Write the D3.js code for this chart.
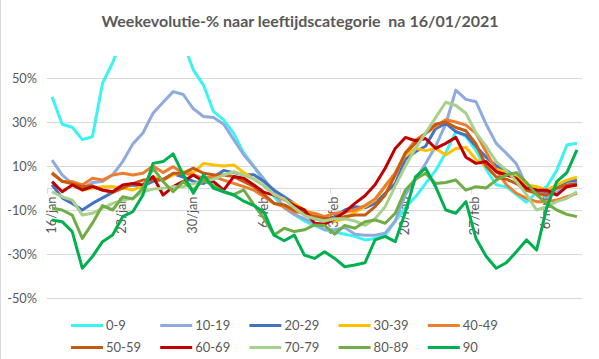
<!DOCTYPE html>
<html><head><meta charset="utf-8">
<script src="https://cdn.jsdelivr.net/npm/d3@7"></script>
<style>
body{margin:0;background:#fff}
svg{display:block;font-family:Lato,"Liberation Sans",sans-serif}
</style>
</head><body><svg id="c" width="599" height="359"></svg>
<script>
const categories = ["16/jan","17/jan","18/jan","19/jan","20/jan","21/jan","22/jan","23/jan","24/jan","25/jan","26/jan","27/jan","28/jan","29/jan","30/jan","31/jan",
"1/feb","2/feb","3/feb","4/feb","5/feb","6/feb","7/feb","8/feb","9/feb","10/feb","11/feb","12/feb","13/feb","14/feb","15/feb","16/feb","17/feb","18/feb","19/feb","20/feb","21/feb","22/feb","23/feb","24/feb","25/feb","26/feb","27/feb","28/feb",
"1/mrt","2/mrt","3/mrt","4/mrt","5/mrt","6/mrt","7/mrt","8/mrt","9/mrt"];
const tickLabels = ["16/jan","23/jan","30/jan","6/feb","13/feb","20/feb","27/feb","6/mrt"];
const yTicks = [-50,-30,-10,10,30,50];
const seriesNames = ["0-9","10-19","20-29","30-39","40-49","50-59","60-69","70-79","80-89","90"];
const seriesColors = ["#3CF3F3","#8FAADC","#4472C4","#FFC000","#ED7D31","#C55A11","#C00000","#A9D18E","#70AD47","#00B050"];

const v0_9   = [41.5,29,27.6,22,23.3,47.6,57,68,75,80, 80,78,72,66,53.6,46.8,34.7,31,24.8,15.8, 9.7,3,-4,-9,-12,-15,-17,-19,-20,-21, -22,-23.6,-23,-21.5,-15,-9,-4,2,8,16, 25.6,23.5,17,8.5,1.5,0.5,-3,-6.5,-2,0.6, 8,19.5,20.3];
const v10_19 = [12.7,6,2,-0.5,2.5,3,6,12,20,25, 34,39,43.8,42.5,36,32.5,32,29,22,15, 9.7,4,-2,-9,-12,-14,-16,-19,-19,-18, -21,-21.5,-21.5,-20.5,-15,-3,4,11,19,29, 44.5,40.3,39.2,29,20.3,15.8,11,1,-2,-4, -2,1,3];
const v20_29 = [1.4,-4.5,-7,-10,-7,-4.5,-2,1,1.4,1, 3,4,6.5,5,3,2,5,8,7,6, 6,3,-1,-4,-7,-11.5,-14,-15,-13,-10, -8.5,-9,-7,-2.4,2,13,16.5,19,27,29.4, 25.6,24,19,14,10,8,5,1.4,-1,-1.7, 0.6,2.9,3.6];
const v30_39 = [6.7,3,2,-0.9,0,0.6,0.6,0,-0.9,1, 5,3.6,5.9,7.4,7,11.2,10.5,10,10.5,7, 4,1,-3,-5.5,-7,-10,-12,-14,-15,-14, -11,-8.5,-5.5,0.6,7,15,18,17,18,15, 18,18.5,13,10,8.5,7,5,1.4,0.6,-0.9, 1.4,3.6,4.9];
const v40_49 = [7,3,2.9,1.4,4.4,3.6,5.9,6.7,5.9,6.7, 10,7,9.7,6.7,5.9,4.4,5.2,3.6,2.1,0.6, -1,-4,-7,-8.5,-11,-11,-11.5,-13,-11.5,-11, -10,-8,-5,1,6.7,15.8,21.8,24.8,28,31, 30,28.6,24.8,16.5,8,1.5,-2.4,-4.7,-6.2,-6.2, -5.5,-4,-2.4];
const v50_59 = [6.7,3,2,0.6,1,-1,-2,0,2,3.6, 4,3.6,6.7,6.7,9,6.7,6,5.9,5.2,2.9, 0.6,-3,-7,-7.7,-10,-11.5,-13,-13.8,-14,-13, -12.3,-12.3,-8.5,-3.2,6,16,20.3,24.8,29,30, 27.5,26,20,10,5,4,2,-1,-2.4,-3.2, -0.1,1.4,1.8];
const v60_69 = [2.9,-1.7,1.4,-0.9,0.6,-0.9,-1.7,1.4,2.1,1.4, 5.2,-3.2,0.6,3,5.9,3,2.9,-1,5.2,4.4, 1.4,-2,-3.2,-5,-8,-10,-16,-16.5,-14,-11, -7,-3.5,1.5,9,18,23,21.5,22.5,18,20.3, 23,14,11.2,12,7.4,6,4.4,-0.1,-0.9,-1, -3.2,0.6,1.4];
const v70_79 = [-1.7,-4,-5.5,-12.3,-11.5,-9.2,-7,-5.5,-4.7,-1.7, -0.5,-0.1,0.6,0.6,2,3,4,5.9,7.4,5.9, 4,1,-3,-5,-9,-12.5,-14,-15,-14,-14, -15,-17,-14,-8.5,1,10,18,25,32,39, 37.5,34,25,19,12,8,3,-3,-10,-8.5, -6.2,-4.7,-1.7];
const v80_89 = [-9.2,-10,-12.3,-22.9,-16,-8,-10,-4,-5,0, 9,2.9,-1.7,2.9,-0.9,3.6,1,-1.7,-3,-0.9, -7.7,-13.8,-21.4,-18.3,-19.8,-19,-16.8,-17,-21,-17, -18.3,-15.3,-14.5,-16,-11.5,-1,4,6.7,2,2.5, 3.6,-1,0.6,0,3.6,6,7,2.5,-3,-7, -10,-12,-13];
const v90    = [-14.5,-15.3,-19.8,-36.5,-31.2,-24.4,-21.4,-13,-10.8,-3.2, 11.2,12,15.5,6,-2.4,5.9,-0.1,-1.7,-3.2,-6, -8,-11,-21.5,-24,-21.4,-30.5,-32,-29,-32,-35.8, -35,-34,-23.6,-22,-24.4,-11,5,9,0.6,-10, -11.5,-6.2,-23,-31,-36.5,-34,-29,-23.6,-28.2,-9, 2.9,7,17.3];
const seriesValues = [v0_9,v10_19,v20_29,v30_39,v40_49,v50_59,v60_69,v70_79,v80_89,v90];

(function(){
const svg = d3.select("#c");
const W = 599, H = 359;
const pL = 47, pR = 582, pT = 56, pB = 298;
const txt = "#595959", grid = "#D9D9D9";

const x = d3.scaleBand().domain(categories).range([pL, pR]);
const xc = c => x(c) + x.bandwidth() / 2;
const y = d3.scaleLinear().domain([-50, 60]).range([pB, pT]);

svg.append("line").attr("x1",0.5).attr("x2",0.5).attr("y1",0).attr("y2",H)
  .attr("stroke",grid).attr("stroke-width",1);

svg.append("text").attr("x", 300).attr("y", 27).attr("text-anchor","middle")
  .attr("fill", txt).attr("font-weight","bold").attr("font-size", 16)
  .style("white-space","pre")
  .text("Weekevolutie-% naar leeftijdscategorie  na 16/01/2021");

svg.append("g").selectAll("line").data(yTicks).join("line")
  .attr("x1", pL).attr("x2", pR)
  .attr("y1", d => Math.round(y(d)) + 0.5).attr("y2", d => Math.round(y(d)) + 0.5)
  .attr("stroke", grid).attr("stroke-width", 1);

const yAxis = svg.append("g").attr("transform", `translate(${pL - 10},0)`)
  .call(d3.axisLeft(y).tickValues(yTicks).tickSize(0).tickPadding(0).tickFormat(d => d + "%"));
yAxis.select(".domain").remove();
yAxis.selectAll("text").attr("fill", txt).attr("font-size", 12.8).attr("font-family","Lato,'Liberation Sans',sans-serif");

const y0 = Math.round(y(0)) + 0.5;
svg.append("line").attr("x1", pL).attr("x2", pR).attr("y1", y0).attr("y2", y0)
  .attr("stroke", grid).attr("stroke-width", 1);
const tickCats = categories.filter((c, i) => i % 7 === 0);
svg.append("g").selectAll("line").data(tickCats).join("line")
  .attr("x1", c => Math.round(x(c)) + 0.5).attr("x2", c => Math.round(x(c)) + 0.5)
  .attr("y1", y0).attr("y2", y0 + 5)
  .attr("stroke", grid).attr("stroke-width", 1);
svg.append("g").selectAll("text").data(tickLabels).join("text")
  .attr("transform", c => `translate(${xc(c) - 1},${y0 + 8}) rotate(-90)`)
  .attr("text-anchor", "end").attr("dy", "0.35em")
  .attr("fill", txt).attr("font-size", 12.8)
  .text(c => c);

svg.append("clipPath").attr("id","plotclip").append("rect")
  .attr("x", pL).attr("y", pT).attr("width", pR - pL).attr("height", pB - pT);
const line = d3.line().x((d, i) => xc(categories[i])).y(d => y(d));
svg.append("g").attr("clip-path","url(#plotclip)").selectAll("path").data(seriesValues).join("path")
  .attr("d", d => line(d))
  .attr("fill","none")
  .attr("stroke", (d, i) => seriesColors[i])
  .attr("stroke-width", 3)
  .attr("stroke-linejoin","round");

const legX0 = 71, legStep = 89.2, legRows = [325, 347];
const leg = svg.append("g").selectAll("g").data(seriesNames).join("g")
  .attr("transform", (d, i) => `translate(${legX0 + (i % 5) * legStep},${legRows[Math.floor(i / 5)]})`);
leg.append("line").attr("x1", 0).attr("x2", 32).attr("y1", 0.5).attr("y2", 0.5)
  .attr("stroke", (d, i) => seriesColors[i]).attr("stroke-width", 3);
leg.append("text").attr("x", 35).attr("y", 0).attr("dy", "0.35em")
  .attr("fill", txt).attr("font-size", 13).text(d => d);
})();
</script>
</body></html>
